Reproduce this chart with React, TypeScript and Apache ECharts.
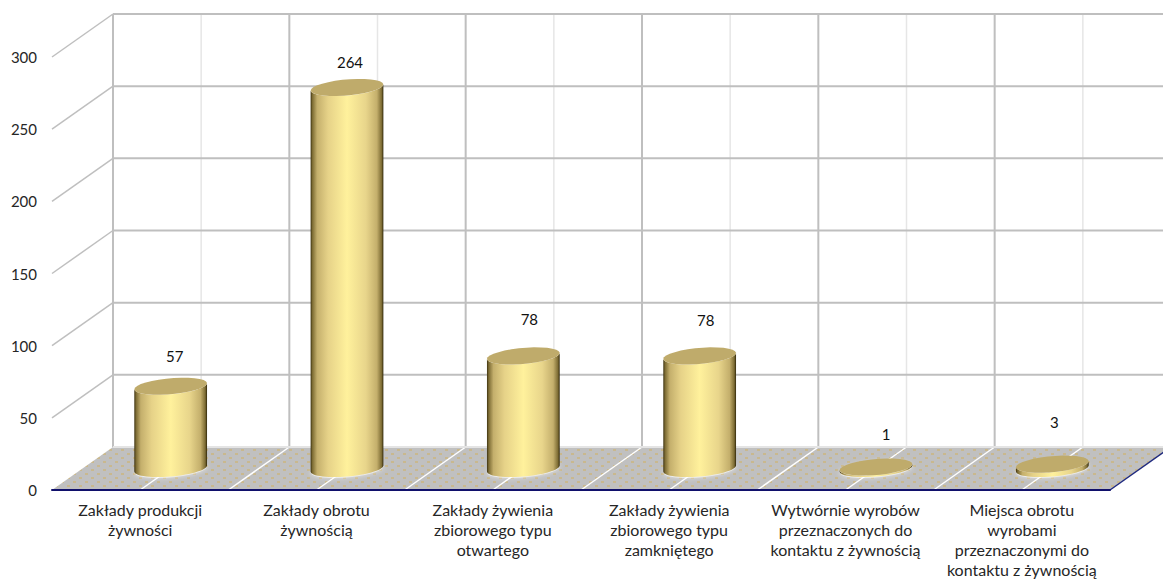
import React, { useEffect, useRef } from "react";
import * as echarts from "echarts";

const categories = [
  "Zakłady produkcji\nżywności",
  "Zakłady obrotu\nżywnością",
  "Zakłady żywienia\nzbiorowego typu\notwartego",
  "Zakłady żywienia\nzbiorowego typu\nzamkniętego",
  "Wytwórnie wyrobów\nprzeznaczonych do\nkontaktu z żywnością",
  "Miejsca obrotu\nwyrobami\nprzeznaczonymi do\nkontaktu z żywnością",
];
const values = [57, 264, 78, 78, 1, 3];
const yTicks = [0, 50, 100, 150, 200, 250, 300];
const halfCategories = [0, 1, 2, 3, 4, 5, 6, 7, 8, 9, 10, 11, 12];

// layout of the pseudo-3D box, in pixels
const DX = 61;
const DY = -43;
const RX = 36.5;
const RY = 8;
const TILT = (-5 * Math.PI) / 180;
const labelShift = [
  [4, -30],
  [3, -25],
  [6, -37],
  [6, -36],
  [10, -33],
  [2, -42],
];

const ellipsePoint = (cx: number, cy: number, t: number) => [
  cx + RX * Math.cos(t) * Math.cos(TILT) - RY * Math.sin(t) * Math.sin(TILT),
  cy + RX * Math.cos(t) * Math.sin(TILT) + RY * Math.sin(t) * Math.cos(TILT),
];

const arc = (cx: number, cy: number, from: number, to: number) => {
  const pts: number[][] = [];
  for (let i = 0; i <= 30; i++) pts.push(ellipsePoint(cx, cy, from + ((to - from) * i) / 30));
  return pts;
};

const makeDots = () => {
  const c = document.createElement("canvas");
  c.width = 12;
  c.height = 8;
  const g = c.getContext("2d")!;
  g.fillStyle = "#c0c0c0";
  g.fillRect(0, 0, 12, 8);
  g.fillStyle = "#c9b88e";
  g.fillRect(1, 1, 3, 2);
  g.fillRect(7, 5, 3, 2);
  return c;
};

const sideColor = {
  type: "linear", x: 0, y: 0, x2: 1, y2: 0,
  colorStops: [
    { offset: 0, color: "#3d3210" },
    { offset: 0.025, color: "#7d6c34" },
    { offset: 0.09, color: "#c4af6c" },
    { offset: 0.24, color: "#e6d288" },
    { offset: 0.5, color: "#fff19c" },
    { offset: 0.76, color: "#e8d58b" },
    { offset: 0.91, color: "#c4af6c" },
    { offset: 0.975, color: "#7d6c34" },
    { offset: 1, color: "#2f2608" },
  ],
};

export default function App() {
  const ref = useRef<HTMLDivElement>(null);
  useEffect(() => {
    document.body.style.margin = "0";
    const chart = echarts.init(ref.current!, null, { renderer: "svg" });
    const font = "Lato, 'Open Sans', sans-serif";
    chart.setOption({
      animation: false,
      backgroundColor: "#ffffff",
      grid: { left: 52, right: 53, top: 57, bottom: 89, outerBoundsMode: "none" },
      xAxis: [
        {
          type: "category",
          data: categories,
          axisTick: { show: false },
          axisLine: { lineStyle: { color: "#10106b", width: 2 } },
          axisLabel: { color: "#262626", fontSize: 16, fontFamily: font, lineHeight: 20, margin: 9, interval: 0 },
          z: 6,
        },
        { type: "value", min: 0, max: 12, show: false },
      ],
      yAxis: {
        type: "value",
        min: 0,
        max: 300,
        interval: 50,
        axisLine: { show: false },
        axisTick: { show: false },
        splitLine: { show: false },
        axisLabel: { color: "#262626", fontSize: 15, fontFamily: font, margin: 15 },
      },
      series: [
        {
          type: "custom",
          name: "floor",
          xAxisIndex: 1,
          z: 1,
          clip: false,
          silent: true,
          data: [[0, 0]],
          renderItem: (_: any, api: any) => {
            const a = api.coord([0, 0]);
            const b = api.coord([12, 0]);
            return {
              type: "group",
              children: [
                {
                  type: "polygon",
                  shape: { points: [a, b, [b[0] + DX, b[1] + DY], [a[0] + DX, a[1] + DY]] },
                  style: { fill: { image: makeDots(), repeat: "repeat" } },
                },
                {
                  type: "line",
                  shape: { x1: b[0], y1: b[1], x2: b[0] + DX, y2: b[1] + DY },
                  style: { stroke: "#1f2a80", lineWidth: 1.5 },
                },
              ],
            };
          },
        },
        {
          type: "custom",
          name: "verticals",
          xAxisIndex: 1,
          z: 2,
          clip: false,
          silent: true,
          data: halfCategories.map((h) => [h, 0]),
          renderItem: (_: any, api: any) => {
            const h = api.value(0);
            const p = api.coord([h, 0]);
            const top = api.coord([h, 300]);
            const major = h % 2 === 0;
            return {
              type: "group",
              children: [
                {
                  type: "line",
                  shape: { x1: p[0] + DX, y1: p[1] + DY, x2: top[0] + DX, y2: top[1] + DY },
                  style: { stroke: major ? "#bfbfbf" : "#e6e6e6", lineWidth: major ? 2 : 1.5 },
                },
                ...(h > 0 && h < 12
                  ? [
                      {
                        type: "line",
                        shape: { x1: p[0], y1: p[1], x2: p[0] + DX, y2: p[1] + DY },
                        style: { stroke: "#ffffff", lineWidth: 1.5 },
                      },
                    ]
                  : []),
              ],
            };
          },
        },
        {
          type: "custom",
          name: "horizontals",
          xAxisIndex: 1,
          z: 2,
          clip: false,
          silent: true,
          data: yTicks.map((v) => [0, v]),
          renderItem: (_: any, api: any) => {
            const v = api.value(1);
            const a = api.coord([0, v]);
            const b = api.coord([12, v]);
            return {
              type: "group",
              children: [
                {
                  type: "line",
                  shape: { x1: a[0] + DX, y1: a[1] + DY, x2: b[0] + DX, y2: b[1] + DY },
                  style: { stroke: v === 0 ? "#e4e4e4" : "#bfbfbf", lineWidth: 2 },
                },
                ...(v > 0
                  ? [
                      {
                        type: "line",
                        shape: { x1: a[0], y1: a[1], x2: a[0] + DX, y2: a[1] + DY },
                        style: { stroke: "#bfbfbf", lineWidth: 1.5 },
                      },
                    ]
                  : []),
              ],
            };
          },
        },
        {
          type: "custom",
          name: "cylinders",
          xAxisIndex: 0,
          z: 5,
          clip: false,
          data: values.map((v, i) => [i, v]),
          renderItem: (params: any, api: any) => {
            const i = api.value(0);
            const v = api.value(1);
            const base = api.coord([i, 0]);
            const top = api.coord([i, v]);
            const cx = base[0] + DX / 2;
            const by = base[1] + DY / 2;
            const ty = top[1] + DY / 2;
            const t0 = Math.atan2(-RY * Math.sin(TILT), RX * Math.cos(TILT));
            const bottomArc = arc(cx, by, t0, t0 + Math.PI);
            const topArc = arc(cx, ty, t0 + Math.PI, t0);
            const lab = labelShift[params.dataIndex];
            return {
              type: "group",
              children: [
                {
                  type: "polygon",
                  shape: { points: arc(cx, by + 1, 0, Math.PI * 2) },
                  style: { fill: "#ffffff", opacity: 0.55, shadowBlur: 5, shadowColor: "#ffffff" },
                },
                {
                  type: "polygon",
                  shape: { points: [...bottomArc, ...topArc] },
                  style: { fill: sideColor },
                },
                {
                  type: "polygon",
                  shape: { points: arc(cx, ty, 0, Math.PI * 2) },
                  style: { fill: "#bfab6b" },
                },
                {
                  type: "text",
                  style: {
                    x: cx + lab[0],
                    y: ty + lab[1],
                    text: String(v),
                    fill: "#111111",
                    font: `15px ${font}`,
                    align: "center",
                    verticalAlign: "middle",
                  },
                },
              ],
            };
          },
        },
      ],
    });
    return () => chart.dispose();
  }, []);
  return <div ref={ref} style={{ width: 1163, height: 579 }} />;
}
